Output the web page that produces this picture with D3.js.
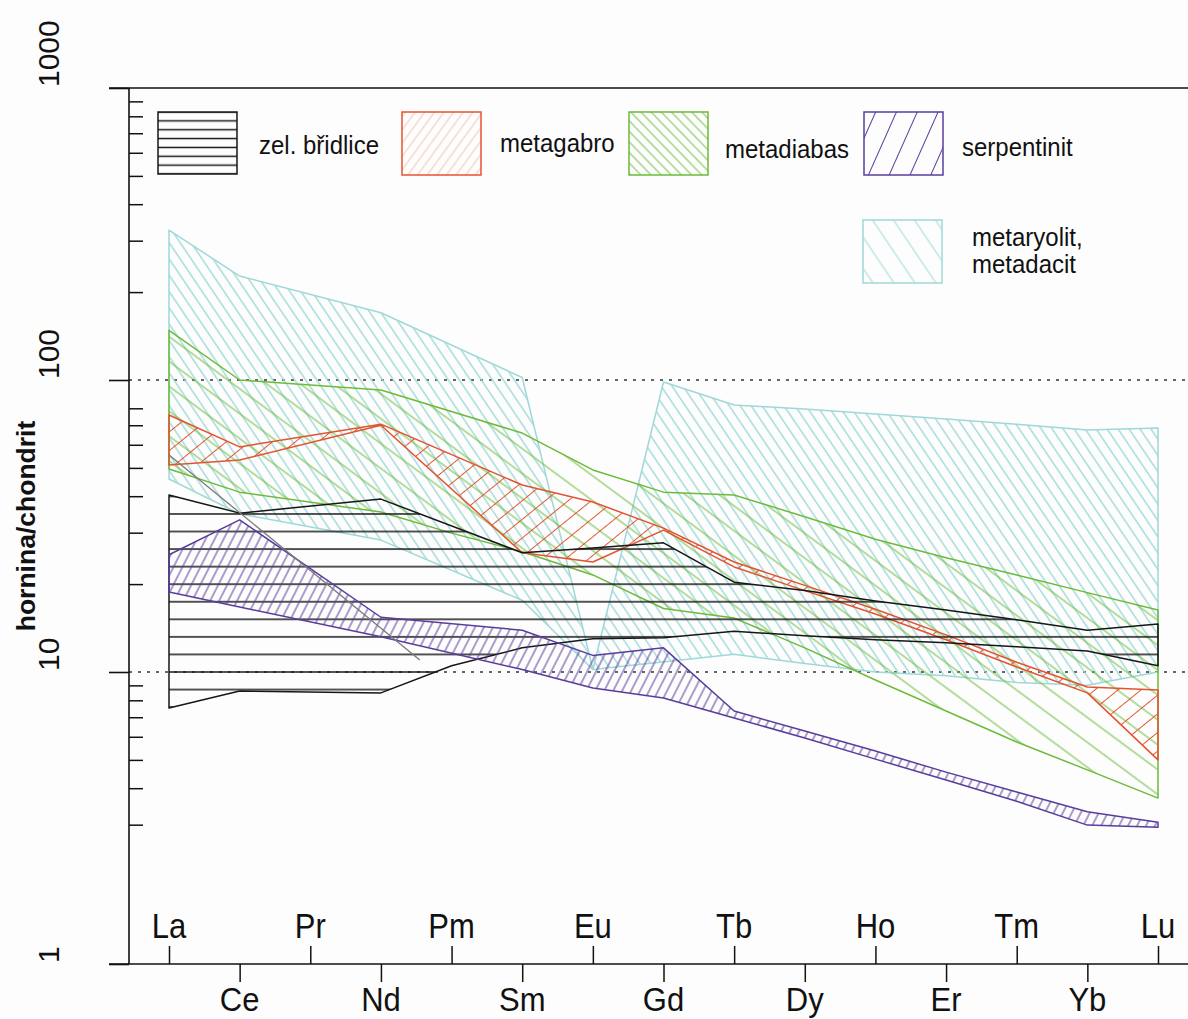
<!DOCTYPE html>
<html>
<head>
<meta charset="utf-8">
<script src="https://cdn.jsdelivr.net/npm/d3@7"></script>
<style>
    body { margin: 0; background: #fdfdfd; }
    svg { display: block; }
    text { font-family: "Liberation Sans", Arial, sans-serif; fill: #111; }
</style>
</head>
<body>
<script>
// Données : terres rares normalisées au chondrit
const elements = ['La', 'Ce', 'Pr', 'Nd', 'Pm', 'Sm', 'Eu', 'Gd', 'Tb', 'Dy', 'Ho', 'Er', 'Tm', 'Yb', 'Lu']
const majorTicks = [1, 10, 100, 1000]
const minorTicks = [3, 4, 5, 6, 7, 8, 9, 20, 30, 40, 50, 60, 70, 80, 200, 300, 400, 500, 600, 700, 800, 900]

// Champs : [indice de l'élément, valeur], bord supérieur et bord inférieur (gauche -> droite)
const ryolitLeftUpper = [[0, 326], [1, 227], [3, 170], [5, 102], [6, 10.2]]
const ryolitLeftLower = [[0, 45.8], [1, 34.8], [3, 28.3], [5, 17.6]]
const ryolitRightUpper = [[6, 10.2], [7, 98.4], [8, 82.1], [9, 79.5], [10, 76.5], [11, 73.5], [12, 70.6], [13, 67.4], [14, 68.5]]
const ryolitRightLower = [[8, 11.5], [9, 10.7], [10, 10.0], [11, 9.7], [12, 9.2], [13, 9.0], [14, 10.0]]

const diabasUpper = [[0, 148], [1, 100], [3, 92.4], [5, 65.8], [6, 49.2], [7, 41.3], [8, 40.4], [9, 34.0], [10, 28.5], [11, 24.6], [12, 21.5], [13, 18.7], [14, 16.3]]
const diabasLower = [[0, 49.6], [1, 41.3], [3, 35.3], [4, 29.9], [5, 25.8], [6, 21.5], [7, 16.5], [8, 15.3], [9, 12.1], [10, 9.39], [11, 7.35], [12, 5.76], [13, 4.62], [14, 3.70]]

const gabroUpper = [[0, 75.9], [1, 59.0], [3, 70.6], [5, 43.7], [6, 38.2], [7, 31.1], [8, 23.8], [9, 19.8], [10, 16.4], [11, 13.4], [12, 10.8], [13, 8.88], [14, 8.68]]
const gabroLower = [[0, 51.2], [1, 53.2], [3, 70.0], [5, 25.6], [6, 23.8], [7, 30.6], [8, 22.9], [9, 19.0], [10, 15.8], [11, 12.9], [12, 10.4], [13, 8.48], [14, 5.0]]

const bridliceUpper = [[0, 40.4], [1, 35.0], [3, 39.1], [5, 25.6], [6, 26.6], [7, 27.7], [8, 20.3], [9, 19.0], [10, 17.5], [11, 16.3], [12, 15.1], [13, 13.9], [14, 14.6]]
const bridliceLower = [[0, 7.53], [1, 8.61], [3, 8.48], [4, 10.5], [5, 12.1], [6, 13.0], [7, 13.1], [8, 13.8], [9, 13.3], [10, 12.9], [11, 12.6], [12, 12.2], [13, 11.8], [14, 10.5]]

const serpUpper = [[0, 25.2], [1, 33.2], [3, 15.4], [5, 13.9], [6, 11.4], [7, 12.1], [8, 7.35], [9, 6.28], [10, 5.36], [11, 4.54], [12, 3.88], [13, 3.32], [14, 3.06]]
const serpLower = [[0, 18.8], [1, 16.7], [3, 13.2], [5, 10.2], [6, 8.81], [7, 8.15], [8, 6.96], [9, 5.94], [10, 5.03], [11, 4.27], [12, 3.61], [13, 2.99], [14, 2.94]]

// Ligne grise isolée
const greyLine = [[0, 55.4], [3.55, 11.0]]

const legendNames = ['zel. břidlice', 'metagabro', 'metadiabas', 'serpentinit', 'metaryolit,', 'metadacit']

// Dimensions
const width = 1188, height = 1019
const axisX = 129, axisTop = 88, axisBottom = 964

const x = d3.scaleLinear()
    .domain([0, elements.length - 1])
    .range([169, 1158])

const y = d3.scaleLog()
    .domain([1, 1000])
    .range([axisBottom, axisTop])

const svg = d3.select('body').append('svg')
    .attr('width', width)
    .attr('height', height)
    .style('background', '#fdfdfd')

const defs = svg.append('defs')

// Crée un motif de hachures (lignes parallèles tournées)
const hatch = (id, angle, gap, color, strokeWidth, y0 = 0) => {
    const p = defs.append('pattern')
        .attr('id', id)
        .attr('patternUnits', 'userSpaceOnUse')
        .attr('x', 0)
        .attr('y', y0)
        .attr('width', 40)
        .attr('height', gap)
        .attr('patternTransform', `rotate(${angle})`)
    p.append('line')
        .attr('x1', -1)
        .attr('x2', 41)
        .attr('y1', gap / 2)
        .attr('y2', gap / 2)
        .attr('stroke', color)
        .attr('stroke-width', strokeWidth)
}

const cBlack = '#161616', cRed = '#e4532f', cGreen = '#6cbb3a', cPurple = '#5a3c9c', cCyan = '#9fd8d8'

const blackGap = 17.56
hatch('hBlack', 0, blackGap, cBlack, 1.3, ((y(10) - blackGap / 2) % blackGap + blackGap) % blackGap)
hatch('hRed', -39, 14.5, cRed, 1.2)
hatch('hGreen', 36.5, 20, cGreen, 1.2)
hatch('hPurple', -63, 8, cPurple, 1.2)
hatch('hCyan', 56, 9.1, cCyan, 1.15)

// Motifs de la légende
const legGap = 8.86
hatch('lBlack', 0, legGap, cBlack, 1.3, ((112 - legGap / 2) % legGap + legGap) % legGap)
hatch('lRed', -54, 7.8, '#f1c5b2', 1)
hatch('lGreen', 46, 7.3, cGreen, 1)
hatch('lPurple', -66, 19, cPurple, 1.2)
hatch('lCyan', 56, 17.4, cCyan, 1.1)

// Lignes pointillées à 10 et 100
svg.append('g')
    .selectAll('line')
    .data([10, 100])
    .join('line')
    .attr('x1', axisX)
    .attr('x2', width)
    .attr('y1', d => y(d))
    .attr('y2', d => y(d))
    .attr('stroke', '#333')
    .attr('stroke-width', 1.3)
    .attr('stroke-dasharray', '3,6')

// Champs
const line = d3.line()
    .x(d => x(d[0]))
    .y(d => y(d[1]))

const fields = [
    { upper: ryolitLeftUpper, lower: ryolitLeftLower, fill: 'hCyan', stroke: cCyan },
    { upper: ryolitRightUpper, lower: ryolitRightLower, fill: 'hCyan', stroke: cCyan },
    { upper: diabasUpper, lower: diabasLower, fill: 'hGreen', stroke: cGreen },
    { upper: gabroUpper, lower: gabroLower, fill: 'hRed', stroke: cRed },
    { upper: bridliceUpper, lower: bridliceLower, fill: 'hBlack', stroke: cBlack },
    { upper: serpUpper, lower: serpLower, fill: 'hPurple', stroke: cPurple }
]

svg.append('g')
    .selectAll('path')
    .data(fields)
    .join('path')
    .attr('d', d => line(d.upper.concat(d.lower.slice().reverse())) + 'Z')
    .attr('fill', d => `url(#${d.fill})`)
    .attr('stroke', d => d.stroke)
    .attr('stroke-width', 1.5)
    .attr('stroke-linejoin', 'round')

svg.append('path')
    .attr('d', line(greyLine))
    .attr('fill', 'none')
    .attr('stroke', '#7a7a7a')
    .attr('stroke-width', 1.3)

// Axe Y
svg.append('line')
    .attr('x1', axisX).attr('x2', axisX)
    .attr('y1', axisTop).attr('y2', axisBottom)
    .attr('stroke', '#111').attr('stroke-width', 1.6)

svg.append('g')
    .selectAll('line')
    .data([1, 1000])
    .join('line')
    .attr('x1', 109)
    .attr('x2', width)
    .attr('y1', d => y(d))
    .attr('y2', d => y(d))
    .attr('stroke', '#111')
    .attr('stroke-width', 1.6)

svg.append('g')
    .attr('transform', `translate(${axisX}, 0)`)
    .call(d3.axisLeft(y).tickValues(majorTicks).tickSize(20).tickFormat(''))
    .call(g => g.select('.domain').remove())
    .call(g => g.selectAll('line').attr('stroke', '#111').attr('stroke-width', 1.6))

svg.append('g')
    .attr('transform', `translate(${axisX}, 0)`)
    .call(d3.axisRight(y).tickValues(minorTicks).tickSize(14).tickFormat(''))
    .call(g => g.select('.domain').remove())
    .call(g => g.selectAll('line').attr('stroke', '#111').attr('stroke-width', 1.5))

svg.append('g')
    .selectAll('text')
    .data(majorTicks)
    .join('text')
    .attr('transform', d => `translate(59, ${y(d) - 1}) rotate(-90)`)
    .attr('text-anchor', 'start')
    .style('font-size', '30px')
    .text(d => d)

svg.append('text')
    .attr('transform', `translate(35, 526) rotate(-90)`)
    .attr('text-anchor', 'middle')
    .style('font-size', '26.5px')
    .style('font-weight', 'bold')
    .text('hornina/chondrit')

// Axe X : étiquettes en haut (indices pairs) et en bas (indices impairs)
const topIdx = d3.range(0, elements.length, 2)
const bottomIdx = d3.range(1, elements.length, 2)

svg.append('g')
    .attr('transform', `translate(0, ${axisBottom})`)
    .call(d3.axisTop(x).tickValues(topIdx).tickSize(18).tickFormat(''))
    .call(g => g.select('.domain').remove())
    .call(g => g.selectAll('line').attr('stroke', '#111').attr('stroke-width', 1.5))

svg.append('g')
    .attr('transform', `translate(0, ${axisBottom})`)
    .call(d3.axisBottom(x).tickValues(bottomIdx).tickSize(18).tickFormat(''))
    .call(g => g.select('.domain').remove())
    .call(g => g.selectAll('line').attr('stroke', '#111').attr('stroke-width', 1.5))

svg.append('g')
    .selectAll('text')
    .data(topIdx)
    .join('text')
    .attr('transform', d => `translate(${x(d)}, 938) scale(1, 1.13)`)
    .attr('text-anchor', 'middle')
    .style('font-size', '31px')
    .text(d => elements[d])

svg.append('g')
    .selectAll('text')
    .data(bottomIdx)
    .join('text')
    .attr('transform', d => `translate(${x(d)}, 1011) scale(1, 1.08)`)
    .attr('text-anchor', 'middle')
    .style('font-size', '31px')
    .text(d => elements[d])

// Légende
const legendBoxes = [
    { x: 158, y: 112, fill: 'lBlack', stroke: cBlack },
    { x: 402, y: 112, fill: 'lRed', stroke: cRed },
    { x: 629, y: 112, fill: 'lGreen', stroke: cGreen },
    { x: 864, y: 112, fill: 'lPurple', stroke: cPurple },
    { x: 863, y: 220, fill: 'lCyan', stroke: cCyan }
]

svg.append('g')
    .selectAll('rect')
    .data(legendBoxes)
    .join('rect')
    .attr('x', d => d.x)
    .attr('y', d => d.y)
    .attr('width', 79)
    .attr('height', d => d.fill == 'lBlack' ? 62 : 63)
    .attr('fill', d => `url(#${d.fill})`)
    .attr('stroke', d => d.stroke)
    .attr('stroke-width', 1.5)

const legendText = [
    { x: 259, y: 154 },
    { x: 500, y: 152 },
    { x: 725, y: 158 },
    { x: 962, y: 156 },
    { x: 972, y: 246 },
    { x: 972, y: 273 }
]

svg.append('g')
    .selectAll('text')
    .data(legendText)
    .join('text')
    .attr('transform', d => `translate(${d.x}, ${d.y}) scale(1, 1.08)`)
    .style('font-size', '24px')
    .text((d, i) => legendNames[i])
</script>
</body>
</html>
